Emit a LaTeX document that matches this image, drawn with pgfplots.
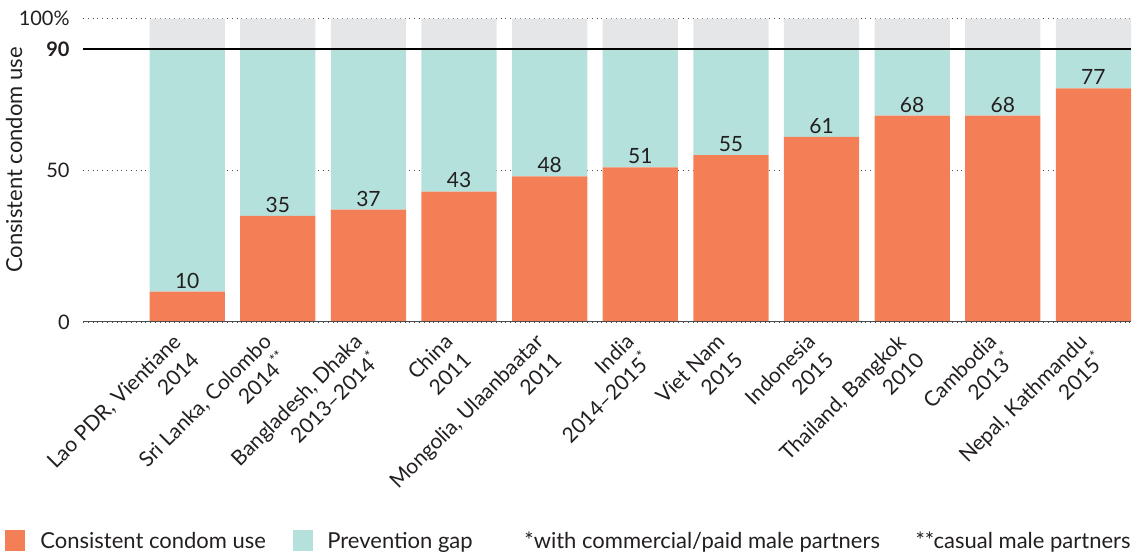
\documentclass[border=0pt]{standalone}
\usepackage{pgfplots}
\pgfplotsset{compat=1.18}
\usepackage{fontspec}
\setmainfont{Lato}

\definecolor{cuse}{RGB}{244,127,86}
\definecolor{gapc}{RGB}{181,225,220}
\definecolor{restc}{RGB}{229,230,232}
\definecolor{txt}{RGB}{35,31,32}

\pgfplotsset{
  base/.style={
    scale only axis, width=524pt, height=151.7pt,
    xmin=-1.15, xmax=10.415, ymin=0, ymax=100,
    axis line style={draw=none}, major tick length=0pt,
  }
}

\begin{document}
\begin{tikzpicture}[font=\fontsize{10}{12}\selectfont, text=txt]
\useasboundingbox (-41.5pt,-116.5pt) rectangle (528pt,161pt);

\begin{axis}[base,
  ybar stacked, bar width=0.83,
  ymajorgrids, grid style={dotted, black!70, line width=0.6pt},
  ytick={0,50,90,100},
  yticklabels={0,50,\textbf{90},100\%},
  yticklabel style={font=\fontsize{10}{12}\selectfont, text=txt, inner sep=0pt, xshift=-6.5pt},
  xtick={0,...,10},
  xticklabels={
    {Lao PDR, Vientiane\\2014},
    {Sri Lanka, Colombo\\2014\textsuperscript{**}},
    {Bangladesh, Dhaka\\2013--2014\textsuperscript{*}},
    {China\\2011},
    {Mongolia, Ulaanbaatar\\2011},
    {India\\2014--2015\textsuperscript{*}},
    {Viet Nam\\2015},
    {Indonesia\\2015},
    {Thailand, Bangkok\\2010},
    {Cambodia\\2013\textsuperscript{*}},
    {Nepal, Kathmandu\\2015\textsuperscript{*}}},
  xticklabel style={font=\fontsize{10.5}{13}\selectfont, text=txt, xshift=-8pt, yshift=-5pt, rotate=45, anchor=north east, align=right, inner sep=0pt},
]
\addplot[fill=cuse, draw=none] coordinates {
(0,10) (1,35) (2,37) (3,43) (4,48) (5,51) (6,55) (7,61) (8,68) (9,68) (10,77)};
\addplot[fill=gapc, draw=none] coordinates {
(0,80) (1,55) (2,53) (3,47) (4,42) (5,39) (6,35) (7,29) (8,22) (9,22) (10,13)};
\addplot[fill=restc, draw=none] coordinates {
(0,10) (1,10) (2,10) (3,10) (4,10) (5,10) (6,10) (7,10) (8,10) (9,10) (10,10)};
\end{axis}

\begin{axis}[base, hide axis, /pgf/number format/assume math mode=true]
\addplot[draw=none, nodes near coords, point meta=y,
  every node near coord/.append style={font=\fontsize{10.5}{12}\selectfont, text=txt, anchor=south, inner sep=1.5pt}]
coordinates {
(0,10) (1,35) (2,37) (3,43) (4,48) (5,51) (6,55) (7,61) (8,68) (9,68) (10,77)};
\draw[black, line width=0.6pt] (axis cs:-1.15,90) -- (axis cs:10.415,90);
\draw[black!70, line width=0.9pt] (axis cs:-1.15,0) -- (axis cs:10.415,0);
\end{axis}

\node[rotate=90, font=\fontsize{11}{13}\selectfont] at (-34.5pt,81pt) {Consistent condom use};

\begin{scope}[font=\fontsize{11}{13}\selectfont]
\fill[cuse] (-39pt,-104pt) rectangle (-29pt,-114.5pt);
\node[anchor=base west, inner sep=0pt] at (-21.5pt,-113.5pt) {Consistent condom use};
\fill[gapc] (105pt,-104pt) rectangle (115pt,-114.5pt);
\node[anchor=base west, inner sep=0pt] at (122pt,-113.5pt) {Prevention gap};
\node[anchor=base west, inner sep=0pt] at (220.5pt,-113.5pt) {*with commercial/paid male partners};
\node[anchor=base east, inner sep=0pt] at (524pt,-113.5pt) {**casual male partners};
\end{scope}
\end{tikzpicture}
\end{document}
